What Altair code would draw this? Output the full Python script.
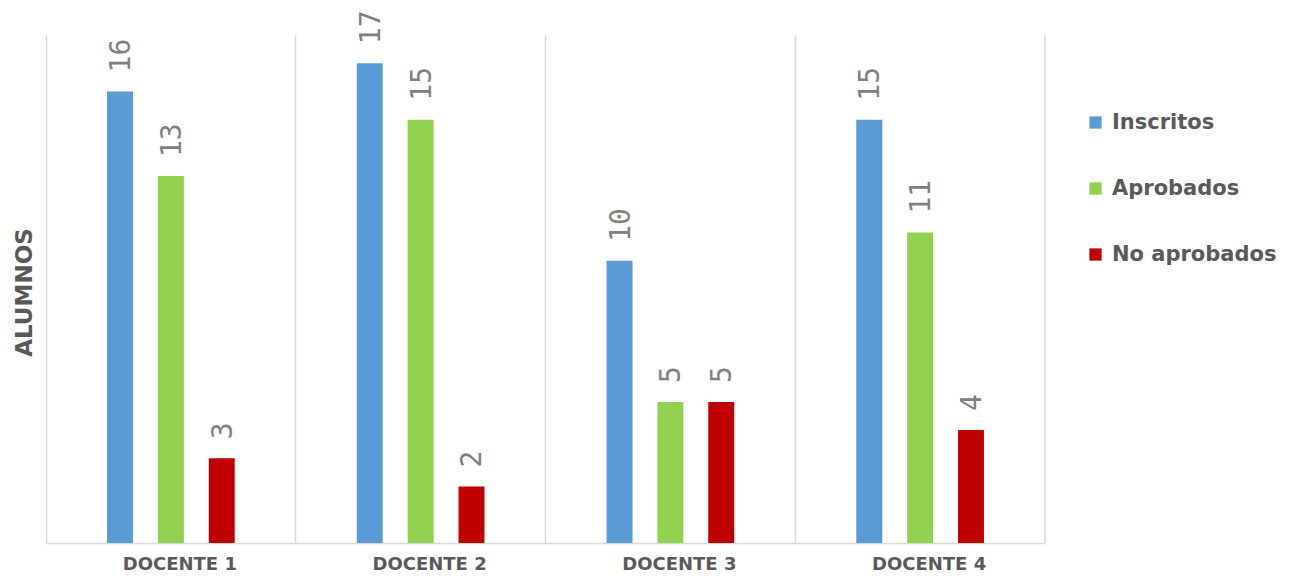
import altair as alt
import pandas as pd

# Students per teacher
docentes = ["DOCENTE 1", "DOCENTE 2", "DOCENTE 3", "DOCENTE 4"]
inscritos = [16, 17, 10, 15]
aprobados = [13, 15, 5, 11]
no_aprobados = [3, 2, 5, 4]

series = ["Inscritos", "Aprobados", "No aprobados"]
colors = ["#5b9bd5", "#92d050", "#c00000"]

rows = []
for i, d in enumerate(docentes):
    for s, vals in zip(series, [inscritos, aprobados, no_aprobados]):
        rows.append({"docente": d, "serie": s, "alumnos": vals[i]})
df = pd.DataFrame(rows)

W, H = 999, 508
GRID = "#d9d9d9"
TXT = "#595959"
FONT = "DejaVu Sans"

x_enc = alt.X(
    "docente:N",
    sort=docentes,
    title=None,
    scale=alt.Scale(paddingInner=0, paddingOuter=0),
    axis=alt.Axis(
        labelAngle=0,
        labelFont=FONT,
        labelFontWeight="bold",
        labelFontSize=18,
        labelColor=TXT,
        labelPadding=12,
        labelOffset=9,
        ticks=False,
        domainColor=GRID,
        domainWidth=1.5,
        grid=True,
        gridColor=GRID,
        gridWidth=1.5,
        bandPosition=0,
    ),
)
y_enc = alt.Y(
    "alumnos:Q",
    scale=alt.Scale(domain=[0, 18], nice=False),
    axis=alt.Axis(
        title="ALUMNOS",
        titleFont=FONT,
        titleFontWeight="bold",
        titleFontSize=23,
        titleColor=TXT,
        titleAngle=-90,
        titleAlign="center",
        titleBaseline="middle",
        titleX=-22,
        titleY=257,
        labels=False,
        ticks=False,
        domain=False,
        grid=False,
    ),
)
# empty slots on each side keep the three bars grouped near the band centre
offset_domain = ["_l"] + series + ["_r"]
xoff = alt.XOffset(
    "serie:N",
    scale=alt.Scale(domain=offset_domain, paddingInner=0.49, paddingOuter=0.2),
)

base = alt.Chart(df).encode(x=x_enc, xOffset=xoff)

bars = base.mark_bar().encode(
    y=y_enc,
    color=alt.Color(
        "serie:N",
        sort=series,
        scale=alt.Scale(domain=series, range=colors),
        legend=alt.Legend(
            title=None,
            orient="none",
            legendX=1039,
            legendY=77,
            symbolType="square",
            symbolSize=150,
            symbolStrokeWidth=0,
            labelFont=FONT,
            labelFontWeight="bold",
            labelFontSize=21,
            labelColor=TXT,
            labelOffset=6,
            labelLimit=0,
            rowPadding=44,
        ),
    ),
)

# value labels, rotated to read upwards; dx runs along the text direction
labels = base.mark_text(
    angle=270,
    align="left",
    baseline="middle",
    dx=19,
    dy=2,
    font="DejaVu Sans Mono",
    fontSize=28,
    color="#808080",
).encode(y=alt.Y("alumnos:Q"), text="alumnos:Q")

right_edge = alt.Chart(alt.Data(values=[{}])).mark_rule(
    color=GRID, strokeWidth=1.5
).encode(x=alt.value(W), y=alt.value(0), y2=alt.value(H))

chart = (
    alt.layer(bars, labels, right_edge)
    .properties(
        width=W,
        height=H,
        autosize=alt.AutoSizeParams(type="none"),
        padding={"left": 46, "top": 35, "right": 261, "bottom": 36},
        background="white",
    )
    .configure_view(stroke=None)
)

chart.save("out.html", embed_options={"renderer": "svg", "actions": False})
